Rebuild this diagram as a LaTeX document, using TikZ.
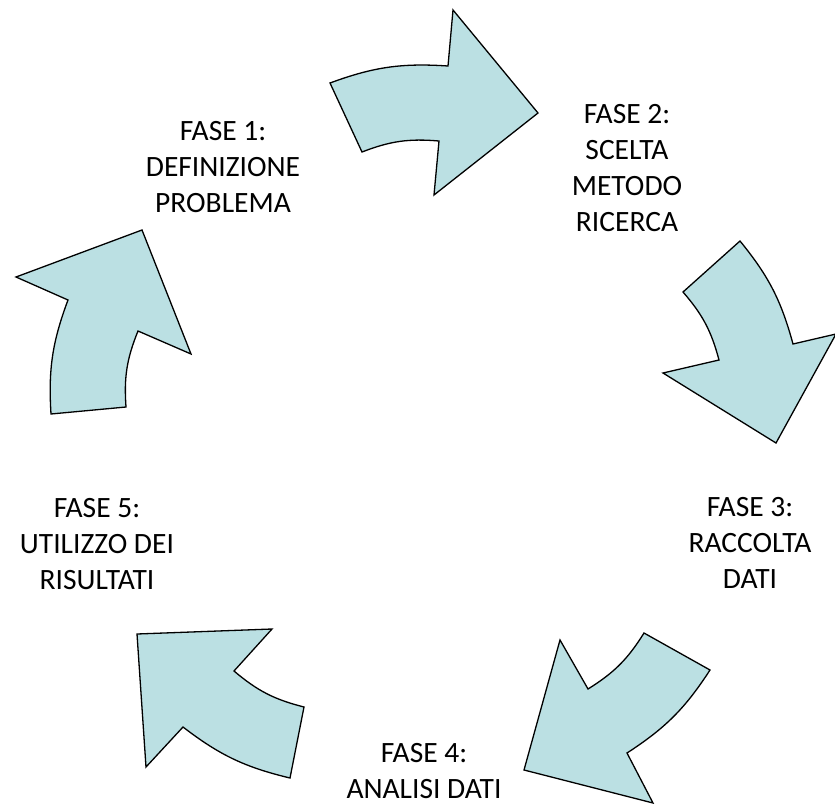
\documentclass[tikz,border=0pt]{standalone}
\usepackage{fontspec}
\setmainfont{Carlito}
\usetikzlibrary{positioning}
\definecolor{cyclefill}{RGB}{187,224,227}
\tikzset{
  cyclearrow/.style={fill=cyclefill, draw=black, line width=1.3pt, line join=miter},
  phaselabel/.style={align=center, inner sep=0pt, font=\fontsize{29.5}{36}\selectfont}
}

\begin{document}
\begin{tikzpicture}[x=1pt,y=-1pt]
\useasboundingbox (0,0) rectangle (835,808);
% arrows of the cycle
\draw[cyclearrow] (330,83) to[bend left=12] (448,66) -- (453,10) -- (538,113) -- (434,195)
  -- (439,141) to[bend right=13] (362,152) -- cycle;
\draw[cyclearrow] (740,241) to[bend left=12] (793,344) -- (836,334) -- (776,443) -- (663,373)
  -- (719,360) to[bend right=13] (683,292) -- cycle;
\draw[cyclearrow] (710,670) to[bend left=12] (627,753) -- (653,803) -- (524,770) -- (560,640)
  -- (588,689) to[bend right=13] (644,633) -- cycle;
\draw[cyclearrow] (290,778) to[bend left=12] (183,727) -- (146,767) -- (137,634) -- (272,629)
  -- (234,671) to[bend right=13] (304,707) -- cycle;
\draw[cyclearrow] (51,414) to[bend left=12] (68,300) -- (16,277) -- (142,230) -- (191,354)
  -- (138,331) to[bend right=13] (126,407) -- cycle;
% labels
\node[phaselabel] (fase1) at (223,167) {FASE 1:\\DEFINIZIONE\\PROBLEMA};
\node[phaselabel] (fase2) at (627,168) {FASE 2:\\SCELTA\\METODO\\RICERCA};
\node[phaselabel] (fase3) at (750,543) {FASE 3:\\RACCOLTA\\DATI};
\node[phaselabel] (fase4) at (424,771) {FASE 4:\\ANALISI DATI};
\node[phaselabel] (fase5) at (97,544) {FASE 5:\\UTILIZZO DEI\\RISULTATI};
\end{tikzpicture}
\end{document}
